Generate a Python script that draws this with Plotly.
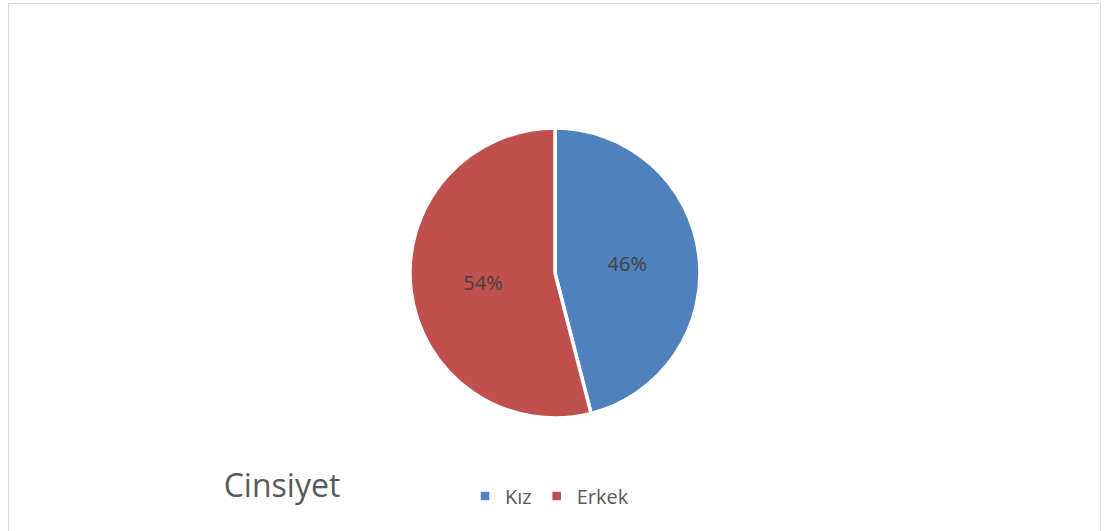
import plotly.graph_objects as go

labels = ["Kız", "Erkek"]
values = [46, 54]
colors = ["#4F81BD", "#C0504D"]

W, H = 1105, 531
cx, cy, r = 555, 273, 145

fig = go.Figure(go.Pie(
    labels=labels,
    values=values,
    sort=False,
    direction="clockwise",
    rotation=0,
    marker=dict(colors=colors, line=dict(color="white", width=3.5)),
    textinfo="percent",
    texttemplate="%{percent:.0%}",
    textposition="inside",
    insidetextorientation="horizontal",
    insidetextfont=dict(family="Open Sans", size=20, color="#404040"),
    domain=dict(x=[(cx - r) / W, (cx + r) / W], y=[(H - cy - r) / H, (H - cy + r) / H]),
    hoverinfo="label+percent",
))

fig.update_layout(
    width=W, height=H,
    margin=dict(l=0, r=0, t=0, b=0),
    paper_bgcolor="white",
    plot_bgcolor="white",
    font=dict(family="Open Sans", color="#595959"),
    showlegend=True,
    legend=dict(
        orientation="h",
        x=465 / W, xanchor="left",
        y=1 - 496 / H, yanchor="middle",
        font=dict(family="Open Sans", size=20, color="#595959"),
        itemwidth=30,
        bgcolor="rgba(0,0,0,0)",
    ),
    title=dict(
        text="Cinsiyet",
        x=282 / W, xanchor="center",
        y=1 - 486 / H, yanchor="middle",
        font=dict(family="Open Sans", size=32, color="#595959"),
    ),
    shapes=[dict(
        type="rect", xref="paper", yref="paper",
        x0=8.5 / W, x1=1100.5 / W, y0=-0.05, y1=1 - 3.5 / H,
        line=dict(color="#d9d9d9", width=1), fillcolor="rgba(0,0,0,0)",
    )],
)

fig.write_html(
    "out.html",
    config={"displayModeBar": False},
    post_script="document.body.style.margin='0';",
)
